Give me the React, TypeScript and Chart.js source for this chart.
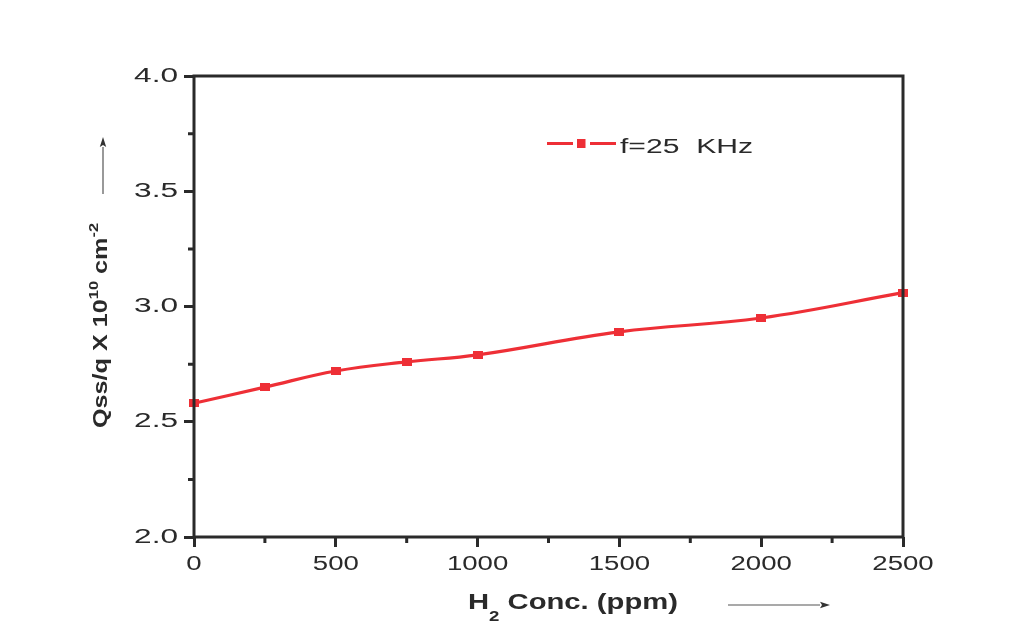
import { useEffect, useRef } from "react";
import { Chart, registerables } from "chart.js";

Chart.register(...registerables);

// H2 concentration (ppm) and surface-state density Qss/q (×10^10 cm^-2)
const concentrations = [0, 250, 500, 750, 1000, 1500, 2000, 2500];
const qssValues = [2.58, 2.65, 2.72, 2.76, 2.79, 2.89, 2.95, 3.06];
const xTickValues = [0, 500, 1000, 1500, 2000, 2500];
const xMinorTicks = [250, 750, 1250, 1750, 2250];
const yTickValues = [2.0, 2.5, 3.0, 3.5, 4.0];
const yMinorTicks = [2.25, 2.75, 3.25, 3.75];
const seriesLabel = "f=25  KHz";

const RED = "#ee2f36";
const INK = "#2a2a2a";
const FONT = "Arial, 'Liberation Sans', sans-serif";

type Piece = { text: string; font: string; shift: number };

// Draws rich text pieces in a row, stretched along the reading direction to a target length.
function drawPieces(ctx: CanvasRenderingContext2D, pieces: Piece[], targetLen: number) {
  let natural = 0;
  for (const p of pieces) {
    ctx.font = p.font;
    natural += ctx.measureText(p.text).width;
  }
  const sx = targetLen / natural;
  ctx.scale(sx, 1);
  let x = -natural / 2;
  ctx.textAlign = "left";
  ctx.textBaseline = "alphabetic";
  for (const p of pieces) {
    ctx.font = p.font;
    ctx.fillText(p.text, x, p.shift);
    x += ctx.measureText(p.text).width;
  }
}

function stretchedLabel(
  ctx: CanvasRenderingContext2D,
  text: string,
  x: number,
  y: number,
  sx: number,
  align: CanvasTextAlign
) {
  ctx.save();
  ctx.translate(x, y);
  ctx.scale(sx, 1);
  ctx.textAlign = align;
  ctx.textBaseline = "middle";
  ctx.fillText(text, 0, 0);
  ctx.restore();
}

function arrow(ctx: CanvasRenderingContext2D, x1: number, y1: number, x2: number, y2: number) {
  const ang = Math.atan2(y2 - y1, x2 - x1);
  const head = 10;
  const half = 3.2;
  ctx.save();
  ctx.strokeStyle = "#555";
  ctx.fillStyle = "#333";
  ctx.lineWidth = 1.2;
  ctx.beginPath();
  ctx.moveTo(x1, y1);
  ctx.lineTo(x2 - Math.cos(ang) * head, y2 - Math.sin(ang) * head);
  ctx.stroke();
  ctx.translate(x2, y2);
  ctx.rotate(ang);
  ctx.beginPath();
  ctx.moveTo(0, 0);
  ctx.lineTo(-head, -half);
  ctx.lineTo(-head + 2, 0);
  ctx.lineTo(-head, half);
  ctx.closePath();
  ctx.fill();
  ctx.restore();
}

const decorPlugin = {
  id: "decor",
  beforeDraw(chart: any) {
    const ctx = chart.ctx as CanvasRenderingContext2D;
    ctx.save();
    ctx.fillStyle = "#ffffff";
    ctx.fillRect(0, 0, chart.width, chart.height);
    ctx.restore();
  },
  afterDraw(chart: any) {
    const ctx = chart.ctx as CanvasRenderingContext2D;
    const area = chart.chartArea;
    const xs = chart.scales.x;
    const ys = chart.scales.y;

    ctx.save();
    // minor ticks
    ctx.strokeStyle = INK;
    ctx.lineWidth = 3;
    ctx.beginPath();
    for (const v of xMinorTicks) {
      const px = xs.getPixelForValue(v);
      ctx.moveTo(px, area.bottom);
      ctx.lineTo(px, area.bottom + 6);
    }
    for (const v of yMinorTicks) {
      const py = ys.getPixelForValue(v);
      ctx.moveTo(area.left, py);
      ctx.lineTo(area.left - 6, py);
    }
    ctx.stroke();

    // frame
    ctx.lineWidth = 3;
    ctx.strokeRect(area.left, area.top, area.right - area.left, area.bottom - area.top);

    // tick labels
    ctx.fillStyle = INK;
    ctx.font = `20px ${FONT}`;
    for (const t of xs.ticks) {
      const px = xs.getPixelForValue(t.value);
      stretchedLabel(ctx, String(t.value), px, area.bottom + 27.5, 1.38, "center");
    }
    for (const t of ys.ticks) {
      const py = ys.getPixelForValue(t.value);
      stretchedLabel(ctx, Number(t.value).toFixed(1), area.left - 16, py, 1.58, "right");
    }

    // x title
    ctx.save();
    ctx.translate(573, 609);
    drawPieces(
      ctx,
      [
        { text: "H", font: `bold 22px ${FONT}`, shift: 0 },
        { text: "2", font: `bold 14px ${FONT}`, shift: 12 },
        { text: " Conc. (ppm)", font: `bold 22px ${FONT}`, shift: 0 },
      ],
      210
    );
    ctx.restore();

    // y title (rotated)
    ctx.save();
    ctx.translate(107, 325.5);
    ctx.rotate(-Math.PI / 2);
    drawPieces(
      ctx,
      [
        { text: "Qss/q X 10", font: `bold 20px ${FONT}`, shift: 0 },
        { text: "10", font: `bold 13px ${FONT}`, shift: -9 },
        { text: " cm", font: `bold 20px ${FONT}`, shift: 0 },
        { text: "-2", font: `bold 13px ${FONT}`, shift: -9 },
      ],
      205
    );
    ctx.restore();

    // direction arrows
    arrow(ctx, 103, 194, 103, 137);
    arrow(ctx, 728, 605, 830, 605);

    // legend
    ctx.strokeStyle = RED;
    ctx.lineWidth = 3;
    ctx.beginPath();
    ctx.moveTo(547, 143.5);
    ctx.lineTo(573, 143.5);
    ctx.moveTo(590, 143.5);
    ctx.lineTo(616, 143.5);
    ctx.stroke();
    ctx.fillStyle = RED;
    ctx.fillRect(577, 139, 8.5, 9);
    ctx.fillStyle = INK;
    ctx.font = `19.5px ${FONT}`;
    ctx.save();
    ctx.translate(620, 153);
    const w = ctx.measureText(seriesLabel).width;
    ctx.scale(133 / w, 1);
    ctx.textAlign = "left";
    ctx.textBaseline = "alphabetic";
    ctx.fillText(seriesLabel, 0, 0);
    ctx.restore();

    ctx.restore();
  },
};

function makeMarker(): HTMLCanvasElement {
  const c = document.createElement("canvas");
  c.width = 10;
  c.height = 8;
  const g = c.getContext("2d")!;
  g.fillStyle = RED;
  g.fillRect(0, 0, 10, 8);
  return c;
}

export default function App() {
  const canvasRef = useRef<HTMLCanvasElement | null>(null);

  useEffect(() => {
    if (!canvasRef.current) return;
    const marker = makeMarker();
    const chart = new Chart(canvasRef.current, {
      type: "line",
      data: {
        datasets: [
          {
            label: seriesLabel,
            data: concentrations.map((c, i) => ({ x: c, y: qssValues[i] })),
            borderColor: RED,
            backgroundColor: RED,
            borderWidth: 3.2,
            pointStyle: marker as any,
            pointRadius: 5,
            tension: 0.4,
            clip: false as any,
          },
        ],
      },
      options: {
        animation: false,
        responsive: false,
        layout: { padding: { top: 76, right: 129, left: 0, bottom: 0 } },
        plugins: { legend: { display: false }, tooltip: { enabled: false } },
        scales: {
          x: {
            type: "linear",
            min: 0,
            max: 2500,
            afterBuildTicks: (s: any) => {
              s.ticks = xTickValues.map((v) => ({ value: v }));
            },
            afterFit: (s: any) => {
              s.height = 101;
            },
            grid: {
              drawOnChartArea: false,
              drawTicks: true,
              tickLength: 10,
              tickWidth: 3,
              tickColor: INK,
            },
            border: { display: false },
            ticks: { color: "rgba(0,0,0,0)", font: { size: 19 } },
          },
          y: {
            type: "linear",
            min: 2,
            max: 4,
            afterBuildTicks: (s: any) => {
              s.ticks = yTickValues.map((v) => ({ value: v }));
            },
            afterFit: (s: any) => {
              s.width = 194;
            },
            grid: {
              drawOnChartArea: false,
              drawTicks: true,
              tickLength: 10,
              tickWidth: 3,
              tickColor: INK,
            },
            border: { display: false },
            ticks: { color: "rgba(0,0,0,0)", font: { size: 19 } },
          },
        },
      },
      plugins: [decorPlugin],
    });
    return () => chart.destroy();
  }, []);

  return (
    <div style={{ position: "fixed", left: 0, top: 0, width: 1032, height: 638, background: "#fff" }}>
      <canvas ref={canvasRef} width={1032} height={638} style={{ width: 1032, height: 638, display: "block" }} />
    </div>
  );
}
